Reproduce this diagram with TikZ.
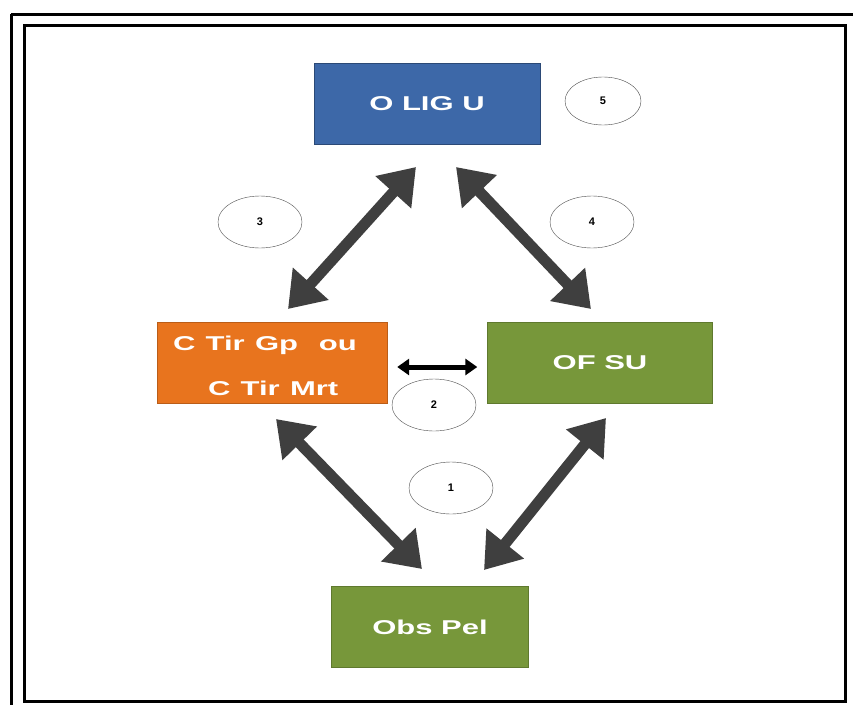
\documentclass[tikz,border=0pt]{standalone}
\usepackage{fontspec}
\setmainfont{Liberation Sans}
\usetikzlibrary{arrows.meta}
\usetikzlibrary{shapes.geometric}
\definecolor{boxblue}{HTML}{3D68A8}
\definecolor{boxorange}{HTML}{E8741E}
\definecolor{boxgreen}{HTML}{77973A}
\definecolor{arrowgray}{HTML}{3F3F3F}
\newcommand{\wide}[1]{\scalebox{1.55}[1]{#1}}
\tikzset{
  box/.style={minimum width=#1, minimum height=81pt, inner sep=0pt,
    text=white, font=\fontsize{20}{26}\selectfont\bfseries, align=center},
  num/.style={draw=black!70, ellipse, minimum width=84pt, minimum height=52pt,
    inner sep=0pt, font=\fontsize{11}{12}\selectfont\bfseries},
  bigarrow/.style={arrowgray, line width=11pt,
    {Triangle[length=34pt,width=46pt]}-{Triangle[length=34pt,width=46pt]}},
}
\begin{document}
\begin{tikzpicture}[x=1pt,y=-1pt]
  \useasboundingbox (0,0) rectangle (853,704);
  \fill[white] (0,0) rectangle (853,704);

  % cadre double
  \draw[line width=3pt] (11,14) -- (858,14);
  \draw[line width=3pt] (11,14) -- (11,710);
  \draw[line width=3pt] (24,25) rectangle (845,701);

  % blocs
  \node[box=226pt, fill=boxblue, draw=boxblue!70!black] (olig) at (427,104) {\wide{O LIG U}};
  \node[box=230pt, fill=boxorange, draw=boxorange!80!black] (ctir) at (272,363) {};
  \node[text=white, font=\fontsize{20}{45}\selectfont\bfseries, align=left,
        text width=214pt, inner sep=0pt] (ctirlbl) at ([xshift=8pt,yshift=-3pt]ctir.center)
    {\wide{C Tir Gp\ \ ou}\\\hspace{35pt}\wide{C Tir Mrt}};
  \node[box=225pt, fill=boxgreen, draw=boxgreen!80!black] (ofsu) at (600,363) {\wide{OF SU}};
  \node[box=197pt, fill=boxgreen, draw=boxgreen!80!black] (obs) at (430,627) {\wide{Obs Pel}};

  % numeros
  \node[num, minimum width=76pt, minimum height=48pt] (n5) at (603,101) {5};
  \node[num] (n3) at (260,222) {3};
  \node[num] (n4) at (592,222) {4};
  \node[num] (n2) at (434,405) {2};
  \node[num] (n1) at (451,488) {1};

  % extremites des fleches
  \coordinate (a3s) at (288,309);
  \coordinate (a3e) at (416,167);
  \coordinate (a4s) at (456,167);
  \coordinate (a4e) at (591,309);
  \coordinate (a1s) at (276,419);
  \coordinate (a1e) at (422,569);
  \coordinate (a6s) at (606,418);
  \coordinate (a6e) at (484,570);
  \coordinate (a2s) at ([xshift=10pt,yshift=-4pt]ctir.east);
  \coordinate (a2e) at ([xshift=-10pt,yshift=-4pt]ofsu.west);

  \draw[bigarrow] (a3s) -- (a3e);
  \draw[bigarrow] (a4s) -- (a4e);
  \draw[bigarrow] (a1s) -- (a1e);
  \draw[bigarrow] (a6s) -- (a6e);
  \draw[black, line width=5pt, {Triangle[length=12pt,width=16pt]}-{Triangle[length=12pt,width=16pt]}]
    (a2s) -- (a2e);
\end{tikzpicture}
\end{document}
